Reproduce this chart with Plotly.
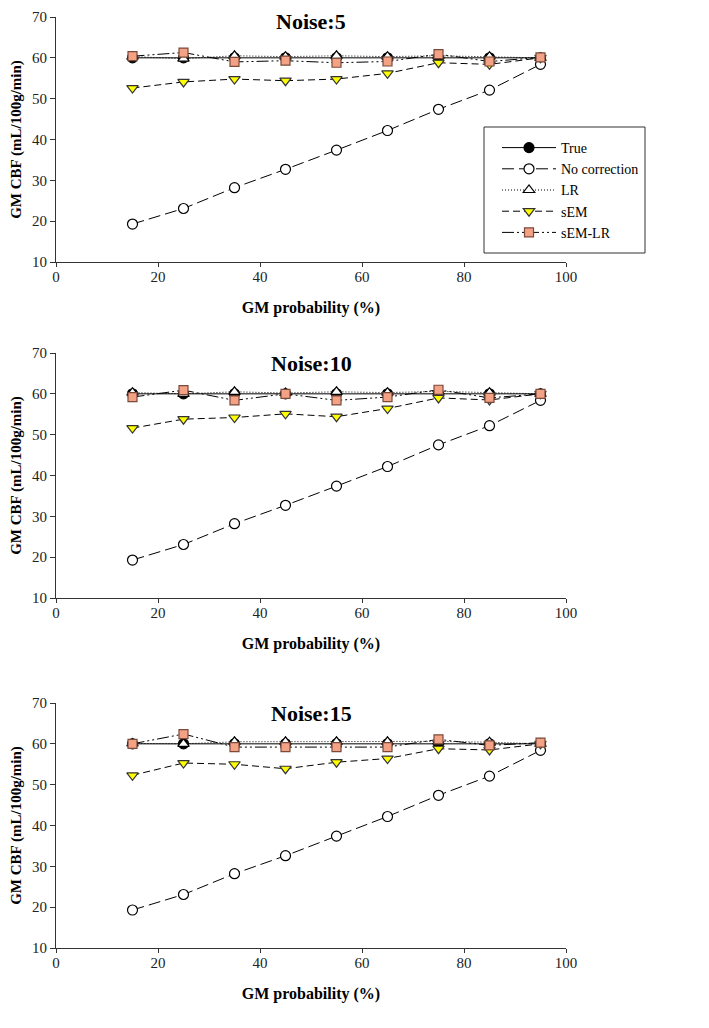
import plotly.graph_objects as go

# ---------------- data ----------------
gm_prob = [15, 25, 35, 45, 55, 65, 75, 85, 95]
series_names = ["True", "No correction", "LR", "sEM", "sEM-LR"]
panel_titles = ["Noise:5", "Noise:10", "Noise:15"]

true_n5 = [60, 60, 60, 60, 60, 60, 60, 60, 60]
nocorr_n5 = [19.3, 23.1, 28.2, 32.7, 37.4, 42.2, 47.4, 52.1, 58.4]
lr_n5 = [60.3, 59.8, 60.5, 60.3, 60.5, 60.3, 60.5, 60.3, 60.0]
sem_n5 = [52.6, 54.1, 54.8, 54.4, 54.8, 56.2, 58.8, 58.4, 60.0]
semlr_n5 = [60.4, 61.3, 59.0, 59.3, 58.8, 59.1, 60.9, 59.1, 60.1]

true_n10 = [60, 60, 60, 60, 60, 60, 60, 60, 60]
nocorr_n10 = [19.3, 23.1, 28.2, 32.7, 37.4, 42.2, 47.5, 52.2, 58.4]
lr_n10 = [60.3, 60.0, 60.5, 60.2, 60.5, 60.3, 60.6, 60.3, 60.0]
sem_n10 = [51.6, 53.8, 54.2, 55.1, 54.4, 56.4, 59.0, 58.5, 60.0]
semlr_n10 = [59.2, 60.9, 58.4, 60.0, 58.4, 59.2, 61.0, 59.0, 60.0]

true_n15 = [60, 60, 60, 60, 60, 60, 60, 60, 60]
nocorr_n15 = [19.3, 23.1, 28.2, 32.6, 37.4, 42.2, 47.4, 52.1, 58.4]
lr_n15 = [60.1, 60.0, 60.5, 60.5, 60.5, 60.5, 60.6, 60.4, 60.0]
sem_n15 = [52.3, 55.3, 55.0, 53.9, 55.5, 56.4, 58.8, 58.5, 60.0]
semlr_n15 = [60.0, 62.4, 59.2, 59.2, 59.2, 59.2, 61.1, 59.6, 60.3]

panels = [
    [true_n5, nocorr_n5, lr_n5, sem_n5, semlr_n5],
    [true_n10, nocorr_n10, lr_n10, sem_n10, semlr_n10],
    [true_n15, nocorr_n15, lr_n15, sem_n15, semlr_n15],
]

# ---------------- styles ----------------
# the page body has an 8px default margin, so the figure is 8px smaller
W, H = 701, 1020
styles = [
    dict(dash="solid", symbol="circle", fill="black", size=10),
    dict(dash="12px,5px", symbol="circle", fill="white", size=10),
    dict(dash="1px,2px", symbol="triangle-up", fill="white", size=10),
    dict(dash="7px,4px", symbol="triangle-down", fill="#FFFF00", size=10),
    dict(dash="12px,3px,2px,3px,2px,3px", symbol="square", fill="#F4A285", size=9),
]
marker_lines = ["black", "black", "black", "#333333", "#7a4a3a"]

x_dom = [48 / W, 558 / W]
# (top px, bottom px) of each plotting area, in figure pixels
panel_px = [(9, 254), (345, 590), (695, 940)]
title_px = [None, 355, 705]

SERIF = "Liberation Serif, Times New Roman, serif"

fig = go.Figure()
layout = dict(
    template="none",
    width=W, height=H, autosize=False,
    margin=dict(l=0, r=0, t=0, b=0),
    paper_bgcolor="white", plot_bgcolor="white",
    font=dict(family=SERIF, size=15, color="#222222"),
    annotations=[],
    shapes=[],
)

for i, data in enumerate(panels):
    n = "" if i == 0 else str(i + 1)
    for j, vals in enumerate(data):
        st = styles[j]
        fig.add_trace(go.Scatter(
            x=gm_prob, y=vals, name=series_names[j],
            xaxis="x" + n, yaxis="y" + n,
            mode="lines+markers",
            line=dict(color="black", width=1, dash=st["dash"]),
            marker=dict(symbol=st["symbol"], size=st["size"], color=st["fill"],
                        line=dict(color=marker_lines[j], width=1.2)),
            showlegend=(i == 0),
        ))
    top, bot = panel_px[i]
    layout["xaxis" + n] = dict(
        domain=x_dom, anchor="y" + n, range=[0, 100], dtick=20, tick0=0,
        automargin=False,
        showline=True, linecolor="#333333", linewidth=1, showgrid=False,
        zeroline=False, ticks="outside", ticklen=4, tickcolor="#333333",
        ticklabelstandoff=-3,
        tickfont=dict(size=15, family=SERIF),
        title=dict(text="<b>GM probability (%)</b>", standoff=17,
                   font=dict(size=16, family=SERIF, color="black")),
    )
    layout["yaxis" + n] = dict(
        domain=[1 - bot / H, 1 - top / H], anchor="x" + n, range=[10, 70],
        dtick=10, tick0=10, automargin=False,
        showline=True, linecolor="#333333", linewidth=1, showgrid=False,
        zeroline=False, ticks="outside", ticklen=5, tickcolor="#333333",
        tickfont=dict(size=15, family=SERIF),
        title=dict(text="<b>GM CBF (mL/100g/min)</b>", standoff=15,
                   font=dict(size=15, family=SERIF, color="black")),
    )
    if title_px[i] is None:
        # top panel title sits against the top edge of the figure
        ann_pos = dict(y=1.0, yanchor="top", height=22, valign="middle")
    else:
        ann_pos = dict(y=1 - title_px[i] / H, yanchor="middle")
    layout["annotations"].append(dict(
        text="<b>" + panel_titles[i] + "</b>", xref="paper", yref="paper",
        x=(x_dom[0] + x_dom[1]) / 2, xanchor="center", showarrow=False,
        font=dict(size=22, family=SERIF, color="black"), **ann_pos,
    ))

# legend frame (box drawn as a layout shape, entries by the native legend)
layout["shapes"].append(dict(
    type="rect", xref="paper", yref="paper",
    x0=476 / W, x1=637 / W, y0=1 - 245 / H, y1=1 - 119 / H,
    line=dict(color="#333333", width=1), fillcolor="white", layer="above",
))
layout["legend"] = dict(
    x=489 / W, y=1 - 124 / H, xanchor="left", yanchor="top",
    bgcolor="rgba(0,0,0,0)", borderwidth=0,
    font=dict(size=14, family=SERIF, color="black"),
    tracegroupgap=0, itemwidth=54,
)

fig.update_layout(**layout)
fig.write_html("out.html")
